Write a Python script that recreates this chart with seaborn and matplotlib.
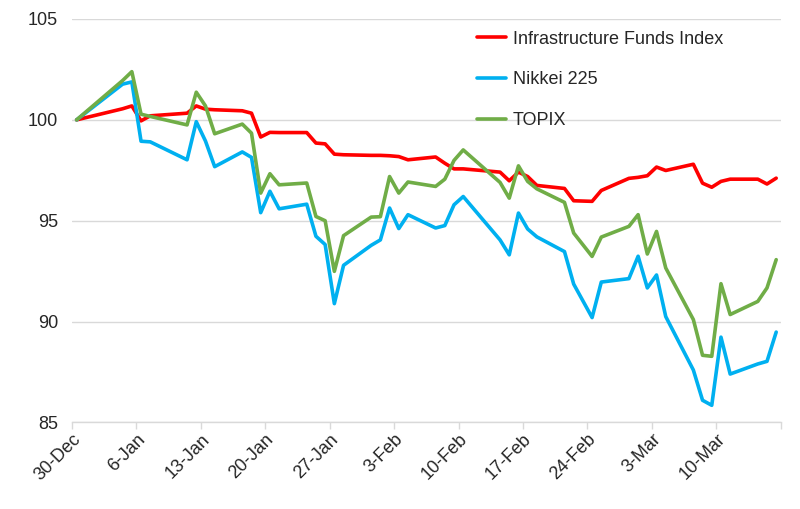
import matplotlib
matplotlib.use("Agg")
import matplotlib.pyplot as plt
import seaborn as sns
import pandas as pd

# trading days (Japan), base = 30-Dec-2021
dates = [
    "2021-12-30",
    "2022-01-04", "2022-01-05", "2022-01-06", "2022-01-07",
    "2022-01-11", "2022-01-12", "2022-01-13", "2022-01-14",
    "2022-01-17", "2022-01-18", "2022-01-19", "2022-01-20", "2022-01-21",
    "2022-01-24", "2022-01-25", "2022-01-26", "2022-01-27", "2022-01-28",
    "2022-01-31", "2022-02-01", "2022-02-02", "2022-02-03", "2022-02-04",
    "2022-02-07", "2022-02-08", "2022-02-09", "2022-02-10",
    "2022-02-14", "2022-02-15", "2022-02-16", "2022-02-17", "2022-02-18",
    "2022-02-21", "2022-02-22", "2022-02-24", "2022-02-25",
    "2022-02-28", "2022-03-01", "2022-03-02", "2022-03-03", "2022-03-04",
    "2022-03-07", "2022-03-08", "2022-03-09", "2022-03-10", "2022-03-11",
    "2022-03-14", "2022-03-15", "2022-03-16",
]

infra_funds = [
    100.0,
    100.55, 100.69, 99.95, 100.2,
    100.33, 100.69, 100.53, 100.5,
    100.45, 100.33, 99.15, 99.38, 99.37,
    99.37, 98.85, 98.81, 98.3, 98.27,
    98.24, 98.24, 98.22, 98.18, 98.02,
    98.16, 97.85, 97.57, 97.57,
    97.41, 96.98, 97.41, 97.19, 96.75,
    96.6, 95.99, 95.96, 96.5,
    97.1, 97.15, 97.23, 97.66, 97.49,
    97.8, 96.86, 96.66, 96.95, 97.06,
    97.06, 96.82, 97.11,
]

nikkei = [
    100.0,
    101.77, 101.88, 98.94, 98.91,
    98.02, 99.91, 98.95, 97.68,
    98.41, 98.14, 95.40, 96.46, 95.59,
    95.82, 94.23, 93.82, 90.89, 92.79,
    93.78, 94.05, 95.63, 94.61, 95.30,
    94.64, 94.76, 95.79, 96.20,
    94.05, 93.31, 95.38, 94.59, 94.20,
    93.47, 91.86, 90.20, 91.96,
    92.13, 93.24, 91.67, 92.31, 90.25,
    87.60, 86.10, 85.85, 89.23, 87.40,
    87.90, 88.03, 89.48,
]

topix = [
    100.0,
    101.95, 102.39, 100.28, 100.17,
    99.75, 101.37, 100.69, 99.31,
    99.79, 99.34, 96.37, 97.33, 96.78,
    96.87, 95.21, 95.0, 92.49, 94.26,
    95.18, 95.2, 97.19, 96.37, 96.92,
    96.7, 97.06, 97.99, 98.51,
    96.9, 96.12, 97.72, 96.95, 96.58,
    95.91, 94.39, 93.23, 94.19,
    94.72, 95.3, 93.35, 94.47, 92.66,
    90.1, 88.33, 88.28, 91.88, 90.35,
    91.0, 91.67, 93.07,
]

series_names = ["Infrastructure Funds Index", "Nikkei 225", "TOPIX"]
series_colors = ["#FF0000", "#00B0F0", "#70AD47"]

tick_dates = pd.date_range("2021-12-30", "2022-03-17", freq="7D")
tick_labels = ["30-Dec", "6-Jan", "13-Jan", "20-Jan", "27-Jan", "3-Feb",
               "10-Feb", "17-Feb", "24-Feb", "3-Mar", "10-Mar", ""]

# Excel-style date axis: points sit in the middle of their day
x = pd.to_datetime(dates) + pd.Timedelta(hours=12)
df = pd.concat([
    pd.DataFrame({"date": x, "value": infra_funds, "series": series_names[0]}),
    pd.DataFrame({"date": x, "value": nikkei, "series": series_names[1]}),
    pd.DataFrame({"date": x, "value": topix, "series": series_names[2]}),
])

sns.set_style("white")
plt.rcParams["font.family"] = ["Liberation Sans", "DejaVu Sans"]

fig = plt.figure(figsize=(8, 5.09), dpi=100)
ax = fig.add_axes([0.09, 0.17, 0.886, 0.7927])

sns.lineplot(data=df, x="date", y="value", hue="series",
             palette=dict(zip(series_names, series_colors)),
             linewidth=2.6, ax=ax)

ax.set_xlim(pd.Timestamp("2021-12-30"), pd.Timestamp("2022-03-17"))
ax.set_ylim(85, 105)
ax.set_yticks([85, 90, 95, 100, 105])
ax.set_xticks(tick_dates)
ax.set_xticklabels(tick_labels, rotation=45, ha="right", rotation_mode="anchor")
ax.tick_params(axis="x", which="major", length=5, width=1, color="#D9D9D9",
               direction="out", bottom=True, labelsize=13, pad=1)
ax.tick_params(axis="y", length=0, labelsize=13, pad=10)
ax.set_xlabel("")
ax.set_ylabel("")

ax.grid(axis="y", color="#D9D9D9", linewidth=1)
ax.set_axisbelow(True)
for side in ["left", "right", "top"]:
    ax.spines[side].set_visible(False)
ax.spines["bottom"].set_color("#D9D9D9")
ax.spines["bottom"].set_linewidth(1)

ax.legend(title=None, frameon=False, fontsize=13, loc="upper left",
          bbox_to_anchor=(0.596, 0.94), bbox_transform=fig.transFigure,
          borderpad=0, borderaxespad=0, labelspacing=1.32,
          handlelength=1.6, handletextpad=0.4)

fig.savefig("out.png", dpi=100)
